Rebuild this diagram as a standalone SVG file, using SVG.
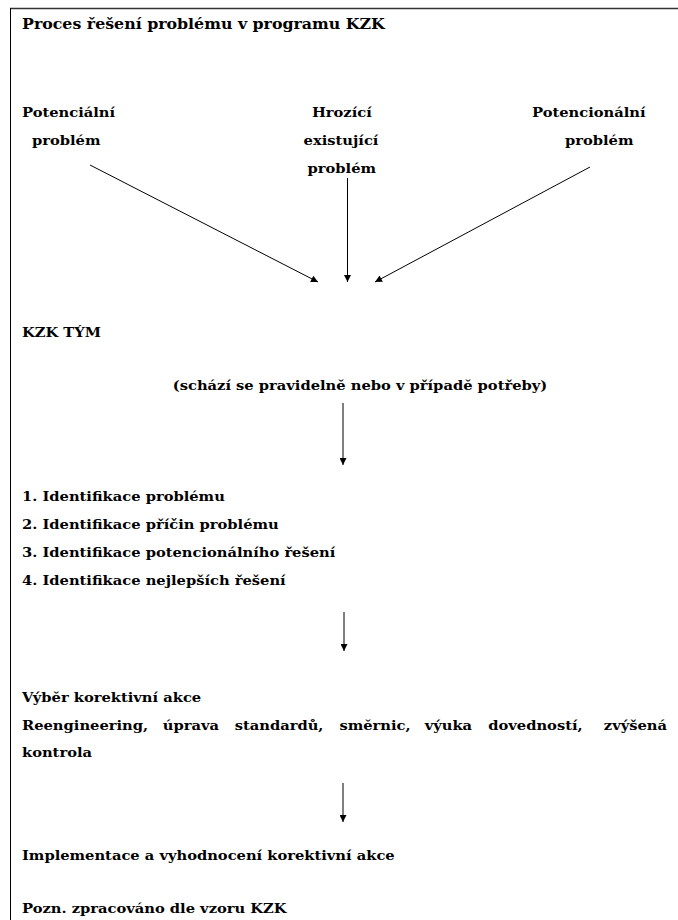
<svg xmlns="http://www.w3.org/2000/svg" width="678" height="920" viewBox="0 0 678 920">
<defs>
<style>
text{font-family:"DejaVu Serif","Liberation Serif",serif;font-weight:bold;font-size:13px;fill:#000}
text.t{font-size:14px}
.m{text-anchor:middle}
.c{stroke:#000;stroke-width:1;fill:none}
</style>
<marker id="ah" viewBox="0 0 10 10" refX="10" refY="5" markerWidth="9" markerHeight="7" markerUnits="userSpaceOnUse" orient="auto"><path d="M0,0 L10,5 L0,10 z" fill="#000"/></marker>
</defs>
<rect width="678" height="920" fill="#fff"/>
<g id="frame">
<line x1="10" y1="8.5" x2="678" y2="8.5" stroke="#333" stroke-width="1.6"/>
<line x1="10.5" y1="8" x2="10.5" y2="920" stroke="#000" stroke-width="1"/>
</g>
<g transform="scale(1.13,1)">
<g id="title"><text class="t" x="19.47" y="29">Proces řešení problému v programu KZK</text></g>
<g id="n-potencialni"><text x="19.47" y="117">Potenciální</text><text x="28.32" y="145">problém</text></g>
<g id="n-hrozici"><text class="m" x="302.5" y="117">Hrozící</text><text class="m" x="301.8" y="145">existující</text><text class="m" x="302.5" y="173">problém</text></g>
<g id="n-potencionalni"><text x="470.8" y="117">Potencionální</text><text x="500" y="145">problém</text></g>
<g id="n-tym"><text x="19.47" y="337">KZK TÝM</text><text class="m" x="318.6" y="390">(schází se pravidelně nebo v případě potřeby)</text></g>
<g id="n-identifikace">
<text x="19.47" y="501">1. Identifikace problému</text>
<text x="19.47" y="529">2. Identifikace příčin problému</text>
<text x="19.47" y="557">3. Identifikace potencionálního řešení</text>
<text x="19.47" y="585">4. Identifikace nejlepších řešení</text>
</g>
<g id="n-vyber">
<text x="19.47" y="702">Výběr korektivní akce</text>
<text y="730"><tspan x="19.47">Reengineering,</tspan><tspan x="144.07">úprava</tspan><tspan x="207.7">standardů,</tspan><tspan x="300.35">směrnic,</tspan><tspan x="375.8">výuka</tspan><tspan x="432.1">dovedností,</tspan></text>
<text x="590.3" y="730" text-anchor="end">zvýšená</text>
<text x="19.47" y="757">kontrola</text>
</g>
<g id="n-implementace"><text x="19.47" y="860">Implementace a vyhodnocení korektivní akce</text></g>
<g id="note"><text x="19.47" y="913">Pozn. zpracováno dle vzoru KZK</text></g>
</g>
<g id="connectors" class="c">
<line class="c" x1="90" y1="165" x2="318" y2="282" marker-end="url(#ah)"/>
<line class="c" x1="347.5" y1="178" x2="347.5" y2="282" marker-end="url(#ah)"/>
<line class="c" x1="590" y1="167" x2="375" y2="282" marker-end="url(#ah)"/>
<line class="c" x1="343" y1="403" x2="343" y2="465" marker-end="url(#ah)"/>
<line class="c" x1="344" y1="612" x2="344" y2="651" marker-end="url(#ah)"/>
<line class="c" x1="343" y1="783" x2="343" y2="822" marker-end="url(#ah)"/>
</g>
</svg>
